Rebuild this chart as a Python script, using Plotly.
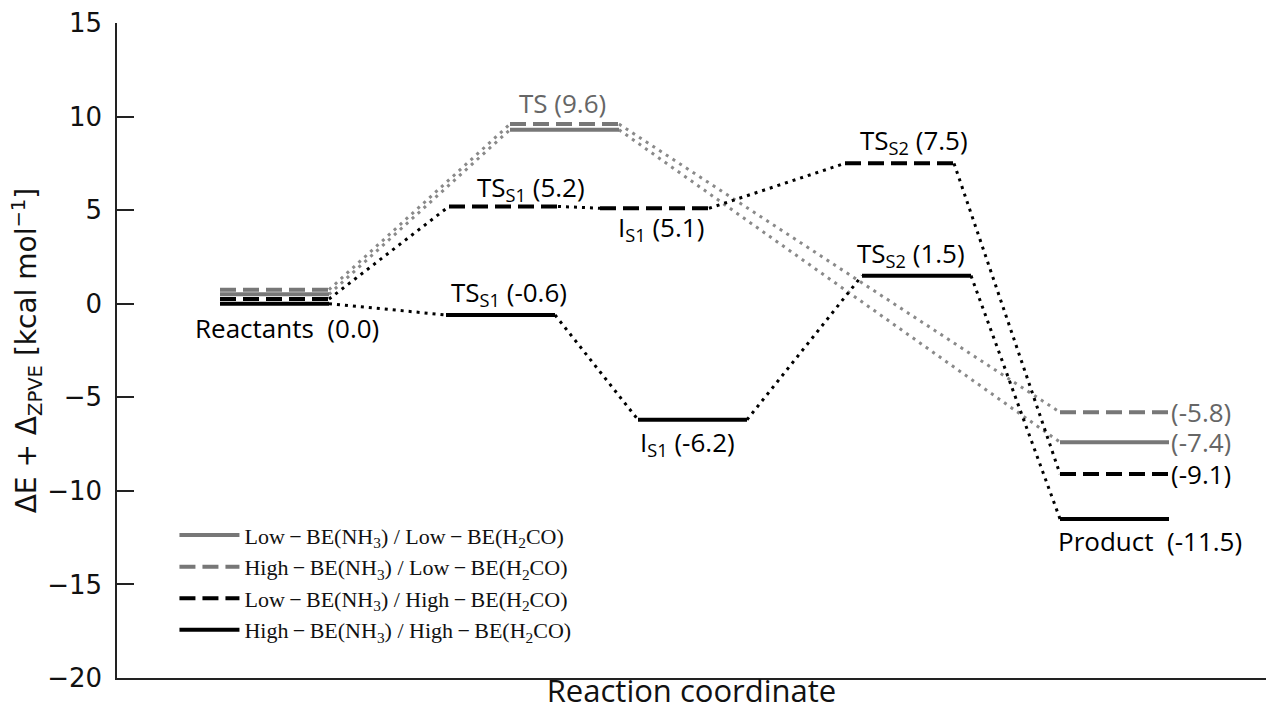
import plotly.graph_objects as go

# Relative energies (kcal/mol) along each pathway
series_names = [
    "Low\u2009\u2212\u2009BE(NH<sub>3</sub>) / Low\u2009\u2212\u2009BE(H<sub>2</sub>CO)",
    "High\u2009\u2212\u2009BE(NH<sub>3</sub>) / Low\u2009\u2212\u2009BE(H<sub>2</sub>CO)",
    "Low\u2009\u2212\u2009BE(NH<sub>3</sub>) / High\u2009\u2212\u2009BE(H<sub>2</sub>CO)",
    "High\u2009\u2212\u2009BE(NH<sub>3</sub>) / High\u2009\u2212\u2009BE(H<sub>2</sub>CO)",
]

stages_low_low = ["Reactants", "TS", "Product"]
energy_low_low = [0.0, 9.3, -7.4]

stages_high_low = ["Reactants", "TS", "Product"]
energy_high_low = [0.0, 9.6, -5.8]

stages_low_high = ["Reactants", "TS_S1", "I_S1", "TS_S2", "Product"]
energy_low_high = [0.0, 5.2, 5.1, 7.5, -9.1]

stages_high_high = ["Reactants", "TS_S1", "I_S1", "TS_S2", "Product"]
energy_high_high = [0.0, -0.6, -6.2, 1.5, -11.5]

y_ticks = [-20, -15, -10, -5, 0, 5, 10, 15]

# ---- drawing layout (reaction-coordinate positions of each level's left edge) ----
LEVEL_W = 1.09
level_left = [
    {"Reactants": 1.03, "TS": 3.93, "Product": 9.43},
    {"Reactants": 1.03, "TS": 3.93, "Product": 9.43},
    {"Reactants": 1.03, "TS_S1": 3.32, "I_S1": 4.83, "TS_S2": 7.28, "Product": 9.43},
    {"Reactants": 1.03, "TS_S1": 3.29, "I_S1": 5.21, "TS_S2": 7.45, "Product": 9.43},
]
# small vertical stacking of the common reactant level so every path stays visible
reactant_stack = [0.5, 0.75, 0.25, 0.0]

GRAY = "#777777"
GRAY_TXT = "#666666"
BLACK = "#000000"
colors = [GRAY, GRAY, BLACK, BLACK]
dot_colors = ["#8a8a8a", "#8a8a8a", BLACK, BLACK]
dashes = ["solid", "16px,7px", "16px,7px", "solid"]

all_stages = [stages_low_low, stages_high_low, stages_low_high, stages_high_high]
all_energy = [energy_low_low, energy_high_low, energy_low_high, energy_high_high]

fig = go.Figure()

for k in range(4):
    stg, en, pos = all_stages[k], all_energy[k], level_left[k]
    ys = [e + (reactant_stack[k] if s == "Reactants" else 0.0) for s, e in zip(stg, en)]
    # dotted connectors between consecutive levels
    cx, cy = [], []
    for i in range(len(stg) - 1):
        cx += [pos[stg[i]] + LEVEL_W, pos[stg[i + 1]], None]
        cy += [ys[i], ys[i + 1], None]
    fig.add_trace(go.Scatter(
        x=cx, y=cy, mode="lines", showlegend=False, hoverinfo="skip",
        line=dict(color=dot_colors[k], width=3, dash="3px,5px"),
    ))

for k in range(4):
    stg, en, pos = all_stages[k], all_energy[k], level_left[k]
    ys = [e + (reactant_stack[k] if s == "Reactants" else 0.0) for s, e in zip(stg, en)]
    lx, ly = [], []
    for s, y in zip(stg, ys):
        lx += [pos[s], pos[s] + LEVEL_W, None]
        ly += [y, y, None]
    fig.add_trace(go.Scatter(
        x=lx, y=ly, mode="lines", name=series_names[k],
        line=dict(color=colors[k], width=4, dash=dashes[k]),
    ))


def energy_of(k, stage):
    return all_energy[k][all_stages[k].index(stage)]


def center_of(k, stage):
    return level_left[k][stage] + LEVEL_W / 2


SUB = '<sub style="font-size:95%">'
label_specs = [
    # (series, stage, text prefix, dx, yshift, color)
    (1, "TS", "TS", -0.02, 21, GRAY_TXT),
    (2, "TS_S1", "TS" + SUB + "S1</sub>", 0.27, 18, BLACK),
    (2, "I_S1", "I" + SUB + "S1</sub>", 0.06, -20, BLACK),
    (2, "TS_S2", "TS" + SUB + "S2</sub>", 0.14, 22, BLACK),
    (3, "TS_S1", "TS" + SUB + "S1</sub>", 0.08, 22, BLACK),
    (3, "I_S1", "I" + SUB + "S1</sub>", -0.05, -23, BLACK),
    (3, "TS_S2", "TS" + SUB + "S2</sub>", -0.06, 22, BLACK),
    (3, "Reactants", "Reactants\u00a0", 0.12, -24, BLACK),
    (3, "Product", "Product\u00a0", 0.35, -22, BLACK),
]
for k, s, prefix, dx, ysh, col in label_specs:
    e = energy_of(k, s)
    fig.add_annotation(
        x=center_of(k, s) + dx, y=e, yshift=ysh, xref="x", yref="y",
        text=f"{prefix} ({e:.1f})", showarrow=False,
        font=dict(family="Open Sans", size=26, color=col),
        xanchor="center", yanchor="middle",
    )

# value labels to the right of the product levels
for k, col in [(1, GRAY_TXT), (0, GRAY_TXT), (2, BLACK)]:
    e = energy_of(k, "Product")
    fig.add_annotation(
        x=level_left[k]["Product"] + LEVEL_W, y=e, xshift=0, xref="x", yref="y",
        text=f"({e:.1f})", showarrow=False,
        font=dict(family="Open Sans", size=26, color=col),
        xanchor="left", yanchor="middle", height=28, valign="middle",
    )

fig.update_layout(
    width=1266, height=711,
    margin=dict(l=117, r=0, t=23, b=33),
    paper_bgcolor="white", plot_bgcolor="white",
    legend=dict(
        x=0.05, y=0.25, xanchor="left", yanchor="top",
        bgcolor="rgba(0,0,0,0)", borderwidth=0, itemwidth=60,
        font=dict(family="Liberation Serif", size=22, color="#111111"),
    ),
    xaxis=dict(
        range=[0, 11.49], showgrid=False, zeroline=False,
        showline=True, linecolor="#222222", linewidth=1.5,
        showticklabels=False, ticks="", automargin=False,
        title=dict(text="Reaction coordinate", standoff=17,
                   font=dict(family="Open Sans", size=31, color="#111111")),
    ),
    yaxis=dict(
        range=[-20, 15], tickvals=y_ticks, showgrid=False, zeroline=False,
        showline=True, linecolor="#222222", linewidth=1.5,
        ticks="inside", ticklen=17, tickwidth=1.5, tickcolor="#222222",
        ticklabelstandoff=8, automargin=False,
        tickfont=dict(family="DejaVu Sans", size=26, color="#111111"),
        title=dict(text="\u0394E + \u0394<sub>ZPVE</sub> [kcal mol<sup>\u22121</sup>]", standoff=0,
                   font=dict(family="DejaVu Sans", size=28, color="#111111")),
    ),
)

fig.write_html("out.html")
